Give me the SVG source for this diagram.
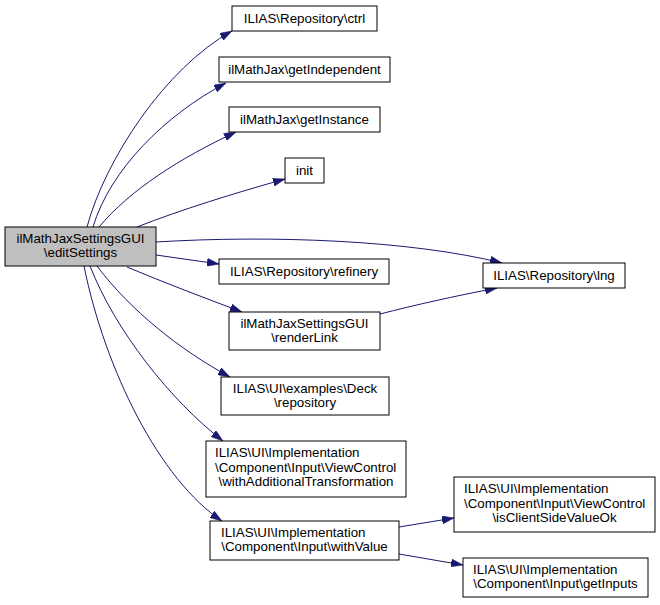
<svg xmlns="http://www.w3.org/2000/svg" width="660" height="605" viewBox="0 0 660 605">
<style>
  .box { fill: #ffffff; stroke: #000000; stroke-width: 1; }
  .main { fill: #bfbfbf; stroke: #000000; stroke-width: 1; }
  text { font-family: "Liberation Sans", Arial, Helvetica, sans-serif; font-size: 13.33px; fill: #000000; }
  .c { text-anchor: middle; }
  .l { text-anchor: start; }
  .edge { fill: none; stroke: #191970; stroke-width: 1; marker-end: url(#ah); }
</style>
<defs>
  <marker id="ah" viewBox="0 0 12 8" refX="12" refY="4" markerWidth="12" markerHeight="8" markerUnits="userSpaceOnUse" orient="auto">
    <path d="M0,0 L12,4 L0,8 z" fill="#191970" stroke="#191970" stroke-width="0.5"/>
  </marker>
</defs>
<rect width="660" height="605" fill="#ffffff"/>
<g id="connectors">
  <path class="edge" d="M87,227 C105,160 165,68 232,31"/>
  <path class="edge" d="M93,227 C110,170 165,115 226,83"/>
  <path class="edge" d="M99,227 C130,190 180,158 236,132"/>
  <path class="edge" d="M137,227 C180,210 235,193 285,179"/>
  <path class="edge" d="M156,242 C270,235 410,240 502,263"/>
  <path class="edge" d="M156,255 L219,264"/>
  <path class="edge" d="M127,267 C165,283 205,298 242,312"/>
  <path class="edge" d="M97,266 C130,310 180,350 230,377"/>
  <path class="edge" d="M90,266 C115,330 170,400 223,441"/>
  <path class="edge" d="M84,266 C105,370 160,480 222,521"/>
  <path class="edge" d="M380,314 C415,305 455,296 497,288"/>
  <path class="edge" d="M399,527 L454,518"/>
  <path class="edge" d="M399,554 L463,565"/>
</g>
<g id="node-main">
  <rect class="main" x="5" y="227" width="151" height="39"/>
  <text class="c" x="80.5" y="242.5">ilMathJaxSettingsGUI</text>
  <text class="c" x="80.5" y="257">\editSettings</text>
</g>
<g id="node-ctrl">
  <rect class="box" x="232" y="6" width="145" height="25"/>
  <text class="c" x="304.5" y="23">ILIAS\Repository\ctrl</text>
</g>
<g id="node-getIndependent">
  <rect class="box" x="219" y="57" width="171" height="25"/>
  <text class="c" x="304.5" y="74">ilMathJax\getIndependent</text>
</g>
<g id="node-getInstance">
  <rect class="box" x="229" y="107" width="151" height="25"/>
  <text class="c" x="304.5" y="124">ilMathJax\getInstance</text>
</g>
<g id="node-init">
  <rect class="box" x="285" y="158" width="39" height="25"/>
  <text class="c" x="304.5" y="175">init</text>
</g>
<g id="node-lng">
  <rect class="box" x="483" y="263" width="142" height="25"/>
  <text class="c" x="554" y="280">ILIAS\Repository\lng</text>
</g>
<g id="node-refinery">
  <rect class="box" x="219" y="259" width="170" height="25"/>
  <text class="c" x="304" y="276">ILIAS\Repository\refinery</text>
</g>
<g id="node-renderLink">
  <rect class="box" x="229" y="312" width="151" height="38"/>
  <text class="c" x="304.5" y="327.5">ilMathJaxSettingsGUI</text>
  <text class="c" x="304.5" y="342">\renderLink</text>
</g>
<g id="node-deck">
  <rect class="box" x="221" y="377" width="168" height="38"/>
  <text class="c" x="305" y="392.5">ILIAS\UI\examples\Deck</text>
  <text class="c" x="305" y="407">\repository</text>
</g>
<g id="node-withAdditionalTransformation">
  <rect class="box" x="206" y="441" width="200" height="56"/>
  <text class="l" x="215" y="457">ILIAS\UI\Implementation</text>
  <text class="l" x="215" y="471.5">\Component\Input\ViewControl</text>
  <text class="c" x="306" y="486">\withAdditionalTransformation</text>
</g>
<g id="node-withValue">
  <rect class="box" x="210" y="521" width="189" height="39"/>
  <text class="l" x="221" y="536.5">ILIAS\UI\Implementation</text>
  <text class="c" x="304.5" y="551">\Component\Input\withValue</text>
</g>
<g id="node-isClientSideValueOk">
  <rect class="box" x="454" y="477" width="201" height="55"/>
  <text class="l" x="464" y="493">ILIAS\UI\Implementation</text>
  <text class="l" x="464" y="507.5">\Component\Input\ViewControl</text>
  <text class="c" x="554.5" y="522">\isClientSideValueOk</text>
</g>
<g id="node-getInputs">
  <rect class="box" x="463" y="558" width="185" height="39"/>
  <text class="l" x="473" y="573.5">ILIAS\UI\Implementation</text>
  <text class="c" x="555.5" y="588">\Component\Input\getInputs</text>
</g>
</svg>
